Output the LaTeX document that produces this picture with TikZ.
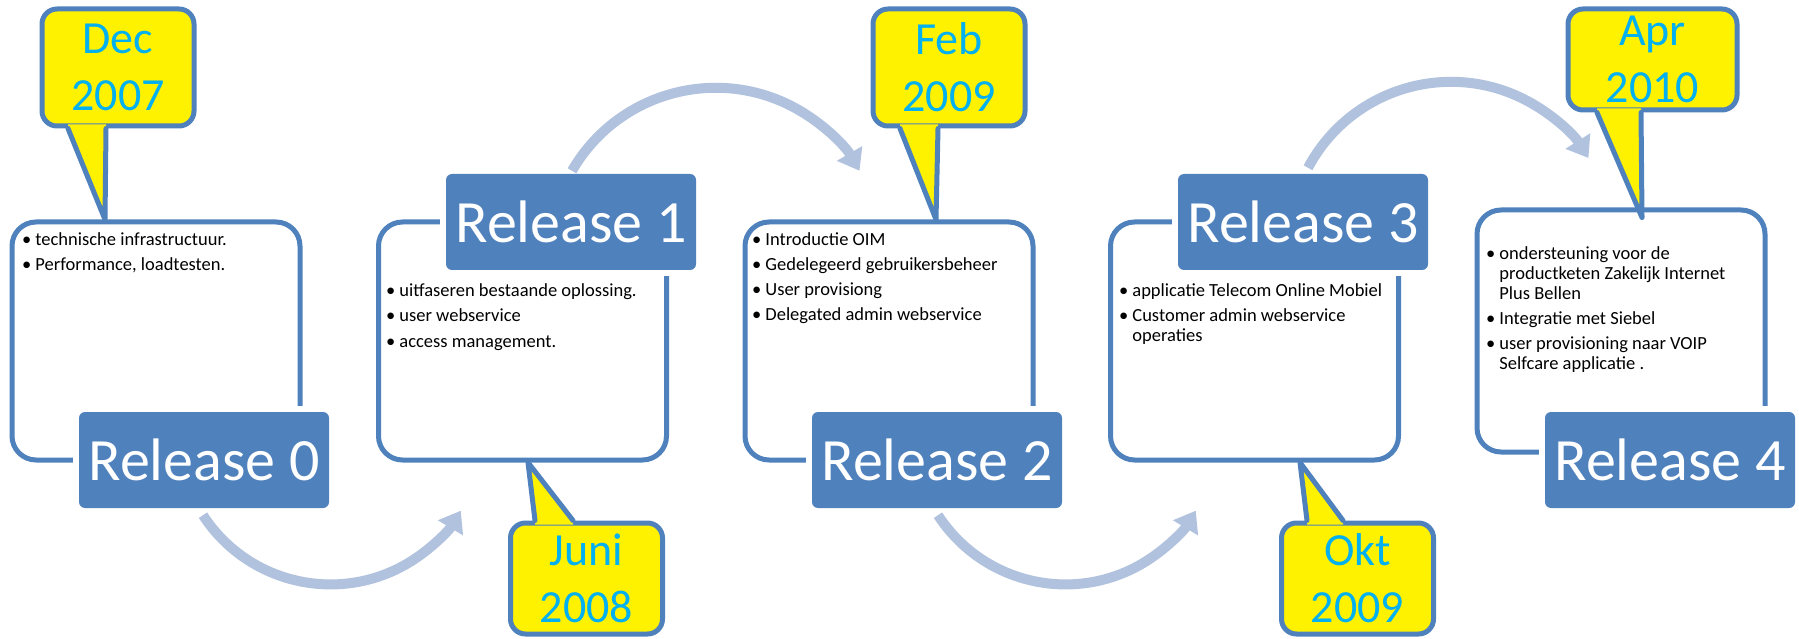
\documentclass[tikz,border=0pt]{standalone}
\usepackage{fontspec}
\setmainfont{Carlito}
\usetikzlibrary{calc}
\usetikzlibrary{arrows.meta}
\definecolor{relblue}{HTML}{4F81BD}
\definecolor{flowblue}{HTML}{B0C2DE}
\definecolor{datecyan}{HTML}{00B0F0}

\begin{document}
\begin{tikzpicture}[x=1pt,y=1pt,
    panel/.style={draw=relblue,line width=5pt,fill=white,rounded corners=24pt,minimum width=288pt,minimum height=238pt},
    release/.style={fill=relblue,text=white,rounded corners=6pt,minimum width=250pt,minimum height=96pt,inner sep=0pt,
      font=\fontsize{60}{72}\selectfont,preaction={draw=white,line width=12pt}},
    datebox/.style={draw=relblue,line width=5pt,fill=yellow,rounded corners=15pt,minimum width=152pt,minimum height=117pt,
      inner sep=0pt,text=datecyan,align=center,font=\fontsize{46}{57}\selectfont},
    tail/.style={draw=relblue,line width=5pt,line cap=round,line join=round},
    items/.style={anchor=base west,inner sep=0pt,font=\fontsize{18.5}{20}\selectfont},
    flow/.style={draw=flowblue,line width=10pt,-{Triangle[width=28pt,length=20pt]}}]
    \useasboundingbox (0,0) rectangle (1799,638);
    %
    \node[panel] (p0) at (156,297) {};
    \node[panel] (p1) at (522.5,297) {};
    \node[panel] (p2) at (889,297) {};
    \node[panel] (p3) at (1254.5,297) {};
    \node[panel,minimum height=242pt] (p4) at (1621,307) {};
    %
    \node[items] (t0) at (22,392) {\begin{tabular}[t]{@{}l@{\hspace{4pt}}l@{}}
      \textbullet & technische infrastructuur.\\[5pt]
      \textbullet & Performance, loadtesten.\end{tabular}};
    \node[items] (t1) at (386,341) {\begin{tabular}[t]{@{}l@{\hspace{4pt}}l@{}}
      \textbullet & uitfaseren bestaande oplossing.\\[5pt]
      \textbullet & user webservice\\[5pt]
      \textbullet & access management.\end{tabular}};
    \node[items] (t2) at (752,392) {\begin{tabular}[t]{@{}l@{\hspace{4pt}}l@{}}
      \textbullet & Introductie OIM\\[5pt]
      \textbullet & Gedelegeerd gebruikersbeheer\\[5pt]
      \textbullet & User provisiong\\[5pt]
      \textbullet & Delegated admin webservice\end{tabular}};
    \node[items] (t3) at (1119,341) {\begin{tabular}[t]{@{}l@{\hspace{4pt}}l@{}}
      \textbullet & applicatie Telecom Online Mobiel\\[5pt]
      \textbullet & Customer admin webservice\\
                  & operaties\end{tabular}};
    \node[items] (t4) at (1486,378) {\begin{tabular}[t]{@{}l@{\hspace{4pt}}l@{}}
      \textbullet & ondersteuning voor de\\
                  & productketen Zakelijk Internet\\
                  & Plus Bellen\\[5pt]
      \textbullet & Integratie met Siebel\\[5pt]
      \textbullet & user provisioning naar VOIP\\
                  & Selfcare applicatie .\end{tabular}};
    %
    \node[release] (r0) at (204,178) {Release 0};
    \node[release] (r1) at (571,416) {Release 1};
    \node[release] (r2) at (937,178) {Release 2};
    \node[release] (r3) at (1303,416) {Release 3};
    \node[release] (r4) at (1670,178) {Release 4};
    %
    \node[datebox] (d0) at (118,570.5) {Dec\\2007};
    \coordinate (d0l) at ($(d0.south)+(-50,0)$);
    \coordinate (d0r) at ($(d0.south)+(-12,0)$);
    \coordinate (d0t) at ($(p0.north)+(-51,0)$);
    \fill[yellow] ($(d0l)+(0,4)$) -- ($(d0r)+(0,4)$) -- (d0r) -- (d0t) -- (d0l) -- cycle;
    \draw[tail] (d0l) -- (d0t) -- (d0r);
    %
    \node[datebox,minimum height=111pt] (d1) at (586.5,59.5) {Juni\\2008};
    \coordinate (d1l) at ($(d1.north)+(-51.5,0)$);
    \coordinate (d1r) at ($(d1.north)+(-13.5,0)$);
    \coordinate (d1t) at ($(p1.south)+(5.5,0)$);
    \fill[yellow] ($(d1l)+(0,-4)$) -- ($(d1r)+(0,-4)$) -- (d1r) -- (d1t) -- (d1l) -- cycle;
    \draw[tail] (d1l) -- (d1t) -- (d1r);
    %
    \node[datebox] (d2) at (949,570.5) {Feb\\2009};
    \coordinate (d2l) at ($(d2.south)+(-49,0)$);
    \coordinate (d2r) at ($(d2.south)+(-11,0)$);
    \coordinate (d2t) at ($(p2.north)+(47,0)$);
    \fill[yellow] ($(d2l)+(0,4)$) -- ($(d2r)+(0,4)$) -- (d2r) -- (d2t) -- (d2l) -- cycle;
    \draw[tail] (d2l) -- (d2t) -- (d2r);
    %
    \node[datebox,minimum height=111pt] (d3) at (1357.5,59.5) {Okt\\2009};
    \coordinate (d3l) at ($(d3.north)+(-50.5,0)$);
    \coordinate (d3r) at ($(d3.north)+(-14.5,0)$);
    \coordinate (d3t) at ($(p3.south)+(45.5,0)$);
    \fill[yellow] ($(d3l)+(0,-4)$) -- ($(d3r)+(0,-4)$) -- (d3r) -- (d3t) -- (d3l) -- cycle;
    \draw[tail] (d3l) -- (d3t) -- (d3r);
    %
    \node[datebox,minimum width=169pt,minimum height=101pt] (d4) at (1652.5,578.5) {Apr\\2010};
    \coordinate (d4l) at ($(d4.south)+(-55.5,0)$);
    \coordinate (d4r) at ($(d4.south)+(-11.5,0)$);
    \coordinate (d4t) at ($(p4.north)+(21,-10)$);
    \fill[yellow] ($(d4l)+(0,4)$) -- ($(d4r)+(0,4)$) -- (d4r) -- (d4t) -- (d4l) -- cycle;
    \draw[tail] (d4l) -- (d4t) -- (d4r);
    %
    \draw[flow] ($(r0.south)+(-1,-7)$) arc[start angle=213,end angle=329,radius=152];
    \draw[flow] ($(r1.north)+(1,3)$) arc[start angle=150,end angle=30,radius=166];
    \draw[flow] ($(r2.south)+(1,-7)$) arc[start angle=213,end angle=329,radius=152];
    \draw[flow] ($(r3.north)+(5,6)$) arc[start angle=152,end angle=32,radius=162];
\end{tikzpicture}
\end{document}
